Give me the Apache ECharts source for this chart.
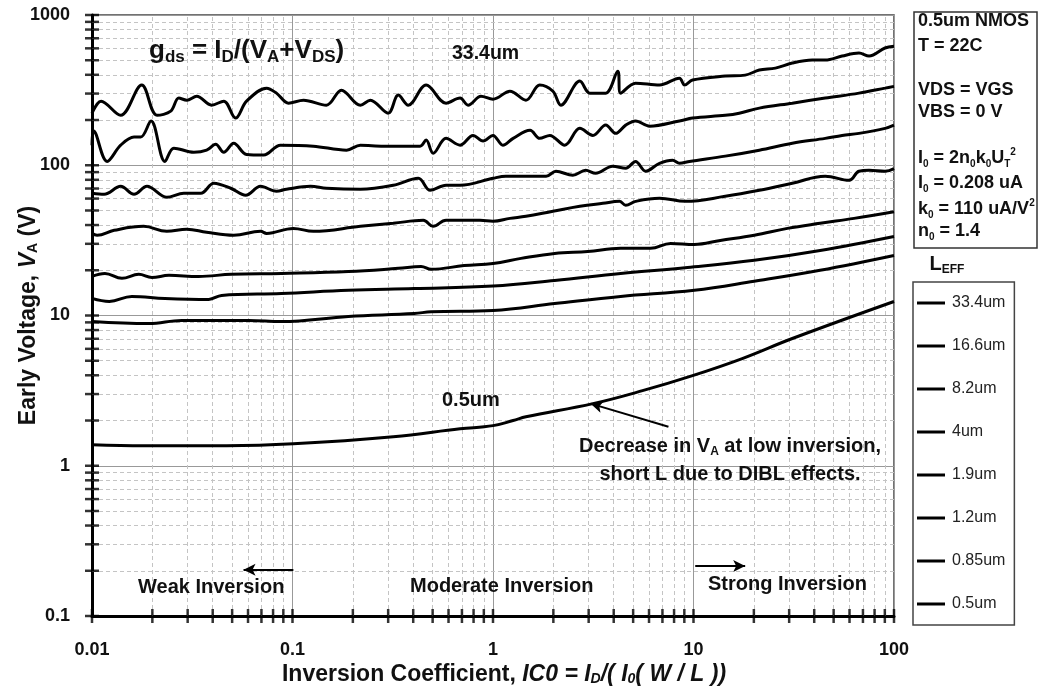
<!DOCTYPE html>
<html>
<head>
<meta charset="utf-8">
<script src="https://cdn.jsdelivr.net/npm/echarts@6/dist/echarts.min.js"></script>
<style>
  html, body { margin: 0; padding: 0; background: #fff; }
  #chart { width: 1040px; height: 686px; }
</style>
</head>
<body>
<div id="chart"></div>
<script>
// Early voltage vs inversion coefficient, one curve per channel length
const lengthNames = ['33.4um', '16.6um', '8.2um', '4um', '1.9um', '1.2um', '0.85um', '0.5um'];

const va33_4 = [[0.01,222],[0.0111,267],[0.0139,215],[0.0177,342],[0.0211,215],[0.0247,229],[0.0271,280],[0.0297,271],
  [0.0333,288],[0.0395,251],[0.0454,267],[0.052,206],[0.059,267],[0.0743,326],[0.0832,302],[0.0955,259],[0.1135,271],
  [0.1476,251],[0.1754,316],[0.218,251],[0.2445,271],[0.3,222],[0.337,293],[0.378,251],[0.464,342],[0.583,259],
  [0.685,280],[0.751,251],[0.871,288],[1,275],[1.215,311],[1.46,271],[1.71,342],[1.99,311],[2.18,251],[2.71,363],
  [3.04,302],[3.65,302],[4.19,423],[4.33,302],[5.14,352],[6.77,342],[8.51,380],[9.02,342],[9.89,369],[14.4,392],
  [18.1,398],[21.3,430],[25.6,443],[31.1,479],[39.1,501],[45.4,501],[55.1,533],[66.9,558],[75.1,533],[90.2,603],[100,620]];
const va16_6 = [[0.01,136],[0.0102,169],[0.0119,106],[0.0139,136],[0.0162,154],[0.0175,154],[0.0197,197],[0.0231,106],
  [0.0256,130],[0.0322,122],[0.0373,126],[0.0414,138],[0.0454,122],[0.0509,140],[0.059,118],[0.0718,117],[0.0871,136],
  [0.127,134],[0.186,126],[0.218,136],[0.284,134],[0.433,134],[0.464,147],[0.503,120],[0.583,151],[0.685,136],
  [0.795,158],[0.892,145],[1,158],[1.12,136],[1.26,151],[1.53,171],[1.71,151],[1.92,158],[2.28,136],[2.71,176],
  [3.15,158],[3.65,185],[4.09,163],[4.59,185],[5.14,197],[6.04,182],[8.51,197],[9.89,206],[14.4,215],[16.9,222],
  [21.3,240],[31.1,259],[45.4,280],[66.9,302],[90.2,326],[100,335]];
const va8_2 = [[0.01,65.1],[0.0115,64.1],[0.0139,72.4],[0.0162,64.1],[0.0188,72.4],[0.0236,61.2],[0.0287,65.1],
  [0.0349,65.1],[0.0405,75.9],[0.0492,70.3],[0.0584,63.1],[0.0693,72.4],[0.0832,67.1],[0.0933,69.2],[0.123,72.4],
  [0.1476,70.3],[0.218,69.2],[0.318,73.6],[0.424,81.9],[0.486,68.1],[0.583,73.6],[0.685,73.6],[1,81.9],[1.16,84.5],
  [1.46,84.5],[1.84,84.5],[2.06,91.2],[2.5,85.8],[2.9,92.6],[3.25,88.4],[3.95,98.5],[4.59,95.5],[5.14,106],[5.77,91.2],
  [6.77,103],[7.87,108],[8.51,103],[9.55,106],[14.4,115],[21.3,126],[31.1,140],[45.4,151],[55.1,158],[66.9,163],
  [90.2,176],[100,185]];
const va4 = [[0.01,35.2],[0.0106,34.2],[0.0129,36.9],[0.0181,39.2],[0.0236,36.3],[0.0297,37.5],[0.0373,35.8],
  [0.0509,34.2],[0.0693,36.3],[0.0743,35.2],[0.101,38.0],[0.127,36.3],[0.218,39.2],[0.318,41.1],[0.449,43.0],
  [0.503,39.2],[0.583,43.0],[0.861,43.0],[1,42.4],[1.215,44.3],[1.46,45.7],[1.99,49.4],[2.71,53.3],[3.53,55.8],
  [4.28,57.5],[4.59,54.1],[5.14,57.5],[6.77,60.3],[9.12,57.5],[14.4,62.1],[21.3,68.1],[31.1,75.9],[45.4,84.5],
  [59.7,79.4],[66.9,91.2],[75.1,92.6],[90.2,91.2],[100,95]];
const va1_9 = [[0.01,18.2],[0.0116,19.05],[0.0141,17.7],[0.0171,18.8],[0.0199,17.9],[0.0242,18.5],[0.034,18.2],
  [0.0497,18.8],[0.0881,19.05],[0.19,19.6],[0.337,20.6],[0.438,21.2],[0.492,20.3],[0.718,21.5],[1,22.2],[1.38,24.0],
  [2.03,25.9],[2.97,26.7],[4.33,28.0],[6.11,28.0],[7.69,30.2],[10.1,29.7],[13.6,31.6],[20.1,34.2],[29.4,38.0],
  [42.8,41.1],[63.2,44.3],[100,49]];
const va1_2 = [[0.01,13.0],[0.0122,12.4],[0.0158,13.4],[0.0231,13.0],[0.0382,12.8],[0.0443,13.6],[0.0881,14.0],
  [0.19,14.7],[0.405,15.1],[1,15.7],[2.03,17.1],[4.33,19.05],[9.33,20.9],[20.1,23.3],[42.8,27.1],[100,33.6]];
const va0_85 = [[0.01,9.12],[0.0192,8.84],[0.028,9.27],[0.0604,9.27],[0.0881,9.12],[0.19,9.85],[0.405,10.3],
  [0.492,10.6],[1,10.8],[2.03,12.0],[4.33,13.4],[10.1,14.7],[20.1,16.9],[42.8,20.0],[100,25.1]];
const va0_5 = [[0.01,1.38],[0.0181,1.36],[0.0469,1.36],[0.101,1.40],[0.318,1.56],[0.685,1.76],[1,1.85],[1.26,2.0],
  [1.46,2.12],[3.15,2.59],[5.57,3.16],[9.89,3.98],[17.5,5.17],[31.1,7.03],[100,12.4]];

const curves = [va33_4, va16_6, va8_2, va4, va1_9, va1_2, va0_85, va0_5];

// log axis decades
const xDecades = [0.01, 0.1, 1, 10, 100];
const yDecades = [0.1, 1, 10, 100, 1000];
const minorSteps = [2, 3, 4, 5, 6, 7, 8, 9];

const FONT = 'Liberation Sans, Arial, sans-serif';

const xMinor = [], yMinor = [];
xDecades.slice(0, -1).forEach(d => minorSteps.forEach(m => xMinor.push(+(d * m).toPrecision(3))));
yDecades.slice(0, -1).forEach(d => minorSteps.forEach(m => yMinor.push(+(d * m).toPrecision(3))));
const xTickVals = xDecades.concat(xMinor);
const yTickVals = yDecades.concat(yMinor);

const chart = echarts.init(document.getElementById('chart'));

const fmt = v => String(+(+v).toPrecision(3));

const series = curves.map((data, i) => ({
  name: lengthNames[i],
  type: 'line',
  data,
  symbol: 'none',
  showSymbol: false,
  smooth: i < 3 ? 0.35 : 0.4,
  lineStyle: { color: '#000', width: 3 },
  itemStyle: { color: '#000' },
  z: 5
}));

// minor grid lines
series.push({
  name: 'minorGrid',
  type: 'line',
  data: [[1, 1]],
  symbol: 'none',
  lineStyle: { width: 0 },
  silent: true,
  z: 1,
  markLine: {
    silent: true,
    symbol: ['none', 'none'],
    label: { show: false },
    lineStyle: { type: [4, 3], color: '#c4c4c4', width: 1 },
    data: xMinor.map(v => ({ xAxis: v })).concat(yMinor.map(v => ({ yAxis: v })))
  }
});

// annotation arrows
series.push({
  name: 'arrows',
  type: 'line',
  data: [[1, 1]],
  symbol: 'none',
  lineStyle: { width: 0 },
  silent: true,
  z: 6,
  markLine: {
    silent: true,
    symbol: ['none', 'arrow'],
    symbolSize: [9, 12],
    label: { show: false },
    lineStyle: { type: 'solid', color: '#000', width: 2 },
    data: [
      [{ coord: [7.5, 1.82] }, { coord: [3.07, 2.59] }],
      [{ coord: [0.101, 0.203] }, { coord: [0.057, 0.203] }],
      [{ coord: [10.2, 0.215] }, { coord: [18.1, 0.215] }]
    ]
  }
});

// axis tick crosses
series.push({
  name: 'xTicks',
  type: 'scatter',
  data: xTickVals.map(v => [v, 0.1]),
  symbol: 'rect',
  symbolSize: [2.5, 14],
  itemStyle: { color: '#000' },
  clip: false,
  silent: true,
  z: 7
});
series.push({
  name: 'yTicks',
  type: 'scatter',
  data: yTickVals.map(v => [0.01, v]),
  symbol: 'rect',
  symbolSize: [14, 2.5],
  itemStyle: { color: '#000' },
  clip: false,
  silent: true,
  z: 7
});

const boldText = { fontFamily: FONT, fontWeight: 'bold', fill: '#111' };
const subRich = {
  b: { fontFamily: FONT, fontWeight: 'bold', fontSize: 18, fill: '#111', lineHeight: 22 },
  s: { fontFamily: FONT, fontWeight: 'bold', fontSize: 10, fill: '#111', verticalAlign: 'bottom', lineHeight: 22, padding: [6, 0, 0, 0] },
  p: { fontFamily: FONT, fontWeight: 'bold', fontSize: 10, fill: '#111', verticalAlign: 'top', lineHeight: 22, padding: [0, 0, 6, 0] }
};

function label(x, y, text, size, align) {
  return { type: 'text', x, y, z: 20, style: Object.assign({ text, fontSize: size, align: align || 'left', verticalAlign: 'middle' }, boldText) };
}
function richLabel(x, y, text, rich) {
  return { type: 'text', x, y, z: 20, style: { text, rich, align: 'left', verticalAlign: 'middle' } };
}

const boxLines = [
  [21, '{b|0.5um NMOS}'],
  [46, '{b|T = 22C}'],
  [90, '{b|VDS = VGS}'],
  [112, '{b|VBS = 0 V}'],
  [158, '{b|I}{s|0}{b| = 2n}{s|0}{b|k}{s|0}{b|U}{s|T}{p|2}'],
  [183, '{b|I}{s|0}{b| = 0.208 uA}'],
  [209, '{b|k}{s|0}{b| = 110 uA/V}{p|2}'],
  [231, '{b|n}{s|0}{b| = 1.4}']
];

const titleRich = {
  b: { fontFamily: FONT, fontWeight: 'bold', fontSize: 26, fill: '#111', lineHeight: 30 },
  s: { fontFamily: FONT, fontWeight: 'bold', fontSize: 17, fill: '#111', verticalAlign: 'bottom', lineHeight: 30, padding: [9, 0, 0, 0] }
};
const noteRich = {
  b: { fontFamily: FONT, fontWeight: 'bold', fontSize: 20, fill: '#111', lineHeight: 24 },
  s: { fontFamily: FONT, fontWeight: 'bold', fontSize: 12, fill: '#111', verticalAlign: 'bottom', lineHeight: 24, padding: [7, 0, 0, 0] }
};

const graphic = [
  richLabel(149, 51, '{b|g}{s|ds}{b| = I}{s|D}{b|/(V}{s|A}{b|+V}{s|DS}{b|)}', titleRich),
  label(452, 54, '33.4um', 19.5),
  label(442, 400, '0.5um', 20),
  { type: 'text', x: 730, y: 446, z: 20, style: { text: '{b|Decrease in V}{s|A}{b| at low inversion,}', rich: noteRich, align: 'center', verticalAlign: 'middle' } },
  label(730, 474, 'short L due to DIBL effects.', 20, 'center'),
  label(138, 587, 'Weak Inversion', 20),
  label(410, 586, 'Moderate Inversion', 20),
  label(708, 584, 'Strong Inversion', 20),
  { type: 'text', x: 947, y: 264, z: 20, style: { text: '{b|L}{s|EFF}', rich: noteRich, align: 'center', verticalAlign: 'middle' } },
  { type: 'rect', shape: { x: 914, y: 12, width: 123, height: 236 }, z: 15, style: { fill: '#fff', stroke: '#333', lineWidth: 1.5 } }
].concat(boxLines.map(([y, t]) => richLabel(918, y, t, subRich)));

chart.setOption({
  animation: false,
  backgroundColor: '#fff',
  grid: { left: 92, right: 146, top: 15, bottom: 70, show: true, borderColor: '#444', borderWidth: 1.5, outerBoundsMode: 'none', containLabel: false },
  legend: {
    data: lengthNames,
    orient: 'vertical',
    left: 913,
    top: 282,
    icon: 'rect',
    itemWidth: 28,
    itemHeight: 3,
    itemGap: 27,
    padding: [13, 9, 13, 4],
    borderColor: '#444',
    borderWidth: 1.5,
    itemStyle: { color: '#000' },
    textStyle: { fontFamily: FONT, fontSize: 16, color: '#222', lineHeight: 16, padding: [0, 0, 0, 2] }
  },
  xAxis: {
    type: 'log',
    logBase: 10,
    min: 0.01,
    max: 100,
    axisLine: { lineStyle: { color: '#000', width: 3 } },
    axisTick: { show: false },
    axisLabel: { fontFamily: FONT, fontSize: 18, fontWeight: 'bold', color: '#111', margin: 25, formatter: fmt },
    splitLine: { lineStyle: { color: '#999', width: 1 } },
    name: '{n|Inversion Coefficient, }{i|IC0 = I}{is|D}{i|/( I}{is|0}{i|( W / L ))}',
    nameLocation: 'middle',
    nameGap: 47,
    nameMoveOverlap: false,
    nameTextStyle: {
      padding: [0, 0, 0, 22],
      rich: {
        n: { fontFamily: FONT, fontWeight: 'bold', fontSize: 23, color: '#111' },
        i: { fontFamily: FONT, fontWeight: 'bold', fontStyle: 'italic', fontSize: 23, color: '#111' },
        is: { fontFamily: FONT, fontWeight: 'bold', fontStyle: 'italic', fontSize: 14, color: '#111', verticalAlign: 'bottom', padding: [9, 0, 0, 0] }
      }
    }
  },
  yAxis: {
    type: 'log',
    logBase: 10,
    min: 0.1,
    max: 1000,
    axisLine: { lineStyle: { color: '#000', width: 3 } },
    axisTick: { show: false },
    axisLabel: { fontFamily: FONT, fontSize: 18, fontWeight: 'bold', color: '#111', margin: 22, formatter: fmt },
    splitLine: { lineStyle: { color: '#999', width: 1 } },
    name: '{n|Early Voltage, }{i|V}{is|A}{n| (V)}',
    nameLocation: 'middle',
    nameGap: 52,
    nameMoveOverlap: false,
    nameTextStyle: {
      rich: {
        n: { fontFamily: FONT, fontWeight: 'bold', fontSize: 23, color: '#111' },
        i: { fontFamily: FONT, fontWeight: 'bold', fontStyle: 'italic', fontSize: 23, color: '#111' },
        is: { fontFamily: FONT, fontWeight: 'bold', fontSize: 14, color: '#111', verticalAlign: 'bottom', padding: [9, 0, 0, 0] }
      }
    }
  },
  graphic,
  series
});
</script>
</body>
</html>
